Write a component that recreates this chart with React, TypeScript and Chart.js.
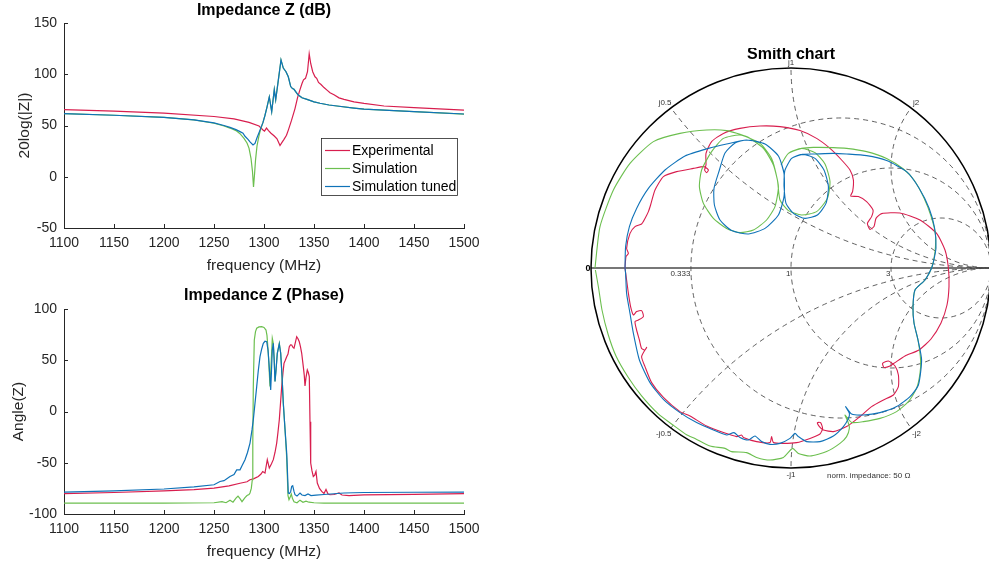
import React, { useEffect, useRef } from 'react';
import { Chart, registerables } from 'chart.js';

Chart.register(...registerables);

const FONT = '"Liberation Sans", Arial, Helvetica, sans-serif';
const AX = '#262626';
const RED = '#D81E4E';
const GREEN = '#6CBF4F';
const BLUE = '#0F72B8';

const seriesNames = ['Experimental', 'Simulation', 'Simulation tuned'];
const freqTicks = [1100, 1150, 1200, 1250, 1300, 1350, 1400, 1450, 1500];
const dbTicks = [-50, 0, 50, 100, 150];
const phaseTicks = [-100, -50, 0, 50, 100];

// ---- Impedance magnitude (dB) ----
const expDbFreq = [1100,1150,1200,1250,1270,1285,1295,1299,1300.5,1302.5,1304.5,1307,1310,1313,1316,1318,1320,1322.5,1324.5,1327.5,1331,1333.5,1336,1338,1339.5,1341.5,1343.5,1345.2,1346.7,1348.7,1351,1352.7,1354.5,1357,1360,1363,1366,1370,1375,1380,1390,1400,1420,1450,1500];
const expDb = [65.5,64,62,58.8,56.5,53,49.5,45.6,44.5,47.5,45,42.5,40,37,30.5,33.5,36.5,40.5,46,55,66.5,77,85,91,94.5,96,102.5,120,110.5,102.5,97.5,96,92,90,87,84.5,82,80,77,75.5,73,71.5,69,67.5,65];

const simDbFreq = [1100,1150,1200,1230,1250,1260,1266,1272,1276,1280,1283,1285,1287,1288.5,1289.5,1290.5,1291.5,1293,1295,1296.5,1299,1301,1303,1305.3,1307.7,1310.3,1311.7,1314.3,1317,1319.3,1322,1324.3,1326.7,1328.5,1330,1334,1338,1343,1350,1356,1365,1373,1390,1400,1450,1500];
const simDb = [61.5,60,58,55.5,52.2,49.5,47.5,45,42,37.5,33,28,18,5,-10,2,16,30,40,46,53,60,68,78,63.5,85,75,94,114,106,102.5,97.5,88,86,85.3,80,77,75.5,73,71.7,70,69,67,66,63.5,61];

const tunDbFreq = [1100,1150,1200,1230,1250,1260,1266,1272,1276,1279,1281,1284,1286,1289,1291,1293,1296,1299,1301,1303,1305.3,1307.7,1310.3,1311.7,1314.3,1317,1319.3,1322,1324.3,1326.7,1328.5,1330,1334,1338,1343,1350,1356,1365,1373,1390,1400,1450,1500];
const tunDb = [61.5,60,58,55.5,52.5,50,48.2,46,44,42.5,39.5,36.5,34,31,32.5,38,45.5,53,60,68,78,63.5,85,75,94,114,106,102.5,97.5,88,86,85.3,80,77,75.5,73,71.7,70,69,67,66,63.5,61.2];

// ---- Impedance phase (deg) ----
const expPhFreq = [1100,1150,1200,1230,1250,1265,1276,1283,1286,1290,1294.3,1297,1298.7,1301,1303.3,1305.3,1307.5,1309.3,1311,1312.7,1314,1315.3,1316.5,1317.7,1319,1320,1321.3,1322.7,1324,1325.3,1326.5,1327.7,1329,1330,1331.5,1332.7,1334,1335.3,1336.5,1337.7,1339.3,1340.3,1341,1342,1343.3,1344.3,1345.3,1346,1346.7,1348,1349.3,1350.7,1352,1353.3,1355.5,1357.7,1360,1362,1364,1366,1370,1375,1378,1385,1400,1450,1500];
const expPh = [-80.2,-79,-77.5,-76.2,-74.7,-72.5,-70,-68.5,-66.6,-65.5,-63.4,-61,-58.5,-60,-47,-55.2,-51,-47,-40,-30.8,-20,-8,8,24.3,38,47,50,53.5,56,63.3,65,64.9,62.5,61.7,68,73,71,68,63,56.8,43.8,35,25,33,40.5,38,34,-10,-50.3,-58,-63.4,-62,-58.5,-69.8,-75,-78,-80,-76,-80.5,-81.2,-81,-79.5,-81.5,-82,-81.3,-80.8,-80.2];

const simPhFreq = [1100,1200,1250,1258,1262,1266,1269,1272,1274,1276,1278,1281,1283,1285,1286,1287.3,1288.3,1288.8,1289.3,1290.3,1291.5,1292.7,1295,1297.7,1300,1302,1303,1304.3,1306,1307.3,1308.3,1309.3,1310.2,1311,1312,1313.3,1315.3,1316.7,1318,1319.3,1321,1322.7,1324,1325,1326,1327.3,1328.5,1330,1333,1336,1339,1342,1345,1350,1360,1400,1500];
const simPh = [-89.3,-89.3,-89,-88,-89,-86.5,-88.5,-84.5,-82.5,-85,-88,-84,-82,-81,-79.5,-75,-66.6,-30,24.3,69.8,78,81.2,82.5,82.8,82,79.5,74,56.8,24.3,50,71.4,66.6,50,29.2,40,56.8,66.5,56.8,35,8.1,-17,-45,-82,-86,-84,-80.5,-85,-88,-89,-86.5,-88.5,-87.5,-88.5,-89,-89.3,-89.3,-89.3];

const tunPhFreq = [1100,1150,1200,1230,1250,1256,1260,1266,1270,1272.7,1276,1278,1281,1283.5,1286,1288,1289.3,1291,1292.7,1294.3,1296,1297.7,1299.3,1301,1302.7,1304,1305,1306.7,1307.5,1308.3,1309.3,1310.2,1311,1312,1313.3,1315.3,1316.7,1318,1319.3,1321,1322.7,1324.3,1325.5,1326.7,1327.7,1328.7,1330,1331,1333,1336,1338,1341,1344,1347,1352,1360,1380,1400,1450,1500];
const tunPh = [-78.6,-77.5,-75.6,-73.5,-71.5,-68.3,-67.5,-63.4,-61.5,-57,-56.9,-53,-47.1,-40,-30.8,-18,-8.2,8,24.3,40,53.5,61,66.6,68.5,68.1,60,47,21.1,40,60,66.6,50,29.2,40,56.8,65.9,56.8,35,8.1,-17,-40.6,-79.5,-80,-78,-73,-72.4,-78,-81.2,-82.5,-79.5,-81.5,-82,-80.5,-82,-81.5,-81,-79.5,-79,-78.8,-78.6];

// ---- Smith chart: reflection coefficient (real, imag) ----
const expSmithRe = [-0.83,-0.825,-0.813,-0.822,-0.805,-0.78,-0.747,-0.73,-0.713,-0.702,-0.68,-0.638,-0.572,-0.488,-0.435,-0.413,-0.422,-0.432,-0.425,-0.425,-0.397,-0.338,-0.255,-0.155,-0.055,0.045,0.128,0.195,0.253,0.295,0.312,0.308,0.298,0.337,0.378,0.41,0.403,0.382,0.395,0.415,0.425,0.453,0.545,0.645,0.728,0.77,0.787,0.79,0.78,0.75,0.7,0.64,0.57,0.52,0.495,0.465,0.458,0.487,0.52,0.537,0.537,0.512,0.462,0.403,0.345,0.278,0.212,0.162,0.142,0.132,0.148,0.158,0.145,0.095,0.028,-0.038,-0.088,-0.097,-0.105,-0.172,-0.238,-0.247,-0.272,-0.338,-0.422,-0.505,-0.555,-0.638,-0.697,-0.73,-0.747,-0.722,-0.73,-0.747,-0.758,-0.772,-0.78,-0.763,-0.738,-0.747,-0.772,-0.788,-0.802,-0.813,-0.822,-0.83];
const expSmithIm = [0,0.057,0.073,0.098,0.173,0.207,0.22,0.248,0.282,0.315,0.39,0.457,0.482,0.498,0.507,0.49,0.477,0.49,0.515,0.573,0.632,0.673,0.698,0.71,0.707,0.687,0.648,0.598,0.54,0.49,0.44,0.382,0.36,0.357,0.332,0.29,0.257,0.223,0.193,0.207,0.248,0.272,0.275,0.24,0.173,0.09,0,-0.093,-0.185,-0.275,-0.355,-0.41,-0.44,-0.473,-0.49,-0.497,-0.477,-0.465,-0.49,-0.535,-0.593,-0.635,-0.66,-0.693,-0.743,-0.793,-0.818,-0.81,-0.793,-0.773,-0.773,-0.802,-0.83,-0.852,-0.873,-0.877,-0.873,-0.843,-0.873,-0.868,-0.847,-0.835,-0.843,-0.823,-0.79,-0.74,-0.718,-0.647,-0.573,-0.493,-0.443,-0.397,-0.41,-0.402,-0.36,-0.31,-0.268,-0.26,-0.243,-0.213,-0.218,-0.235,-0.193,-0.127,-0.06,0];

const simSmithRe = [-0.98,-0.955,-0.888,-0.805,-0.688,-0.555,-0.422,-0.322,-0.222,-0.138,-0.088,-0.063,-0.08,-0.122,-0.188,-0.255,-0.322,-0.388,-0.438,-0.458,-0.447,-0.397,-0.338,-0.255,-0.155,-0.097,-0.068,-0.055,-0.013,0.053,0.128,0.182,0.195,0.17,0.12,0.053,-0.013,-0.05,-0.013,0.053,0.112,0.212,0.278,0.378,0.478,0.562,0.615,0.665,0.7,0.722,0.72,0.703,0.67,0.62,0.61,0.615,0.635,0.648,0.645,0.628,0.587,0.528,0.445,0.362,0.303,0.27,0.285,0.292,0.278,0.245,0.178,0.095,0.037,0.008,-0.038,-0.105,-0.172,-0.222,-0.297,-0.33,-0.405,-0.48,-0.52,-0.59,-0.665,-0.748,-0.815,-0.875,-0.915,-0.945,-0.962,-0.978];
const simSmithIm = [0,0.207,0.39,0.523,0.632,0.673,0.69,0.687,0.657,0.598,0.515,0.407,0.307,0.24,0.19,0.177,0.198,0.248,0.323,0.407,0.49,0.582,0.648,0.665,0.623,0.548,0.44,0.34,0.287,0.265,0.282,0.348,0.432,0.52,0.577,0.598,0.573,0.515,0.573,0.598,0.603,0.602,0.598,0.582,0.548,0.495,0.44,0.35,0.26,0.17,0.08,0,-0.06,-0.11,-0.195,-0.275,-0.36,-0.46,-0.527,-0.602,-0.668,-0.718,-0.752,-0.768,-0.772,-0.735,-0.77,-0.8,-0.843,-0.877,-0.918,-0.94,-0.927,-0.902,-0.947,-0.96,-0.947,-0.923,-0.918,-0.902,-0.89,-0.852,-0.835,-0.785,-0.728,-0.638,-0.545,-0.44,-0.33,-0.21,-0.1,-0.01];

const tunSmithRe = [-0.83,-0.827,-0.808,-0.772,-0.713,-0.63,-0.53,-0.413,-0.322,-0.222,-0.13,-0.063,-0.035,-0.035,-0.063,-0.13,-0.213,-0.297,-0.355,-0.383,-0.385,-0.358,-0.33,-0.28,-0.222,-0.13,-0.063,-0.035,-0.035,-0.025,0.012,0.07,0.132,0.175,0.187,0.165,0.12,0.058,0.003,-0.03,-0.035,-0.03,0.003,0.058,0.12,0.212,0.278,0.378,0.478,0.578,0.64,0.69,0.718,0.725,0.712,0.703,0.67,0.62,0.61,0.615,0.635,0.653,0.637,0.595,0.528,0.445,0.362,0.303,0.273,0.292,0.287,0.262,0.212,0.145,0.078,0.037,0.02,-0.005,-0.055,-0.105,-0.147,-0.18,-0.213,-0.255,-0.285,-0.322,-0.388,-0.472,-0.555,-0.638,-0.705,-0.758,-0.788,-0.805,-0.822,-0.827,-0.83];
const tunSmithIm = [0,0.107,0.207,0.298,0.398,0.49,0.56,0.598,0.62,0.64,0.62,0.56,0.473,0.357,0.265,0.198,0.17,0.187,0.24,0.315,0.398,0.49,0.575,0.625,0.64,0.62,0.56,0.473,0.41,0.323,0.273,0.248,0.265,0.323,0.407,0.49,0.548,0.568,0.548,0.49,0.44,0.49,0.548,0.568,0.57,0.573,0.57,0.562,0.537,0.482,0.4,0.3,0.2,0.1,0.03,0,-0.06,-0.11,-0.195,-0.275,-0.36,-0.46,-0.585,-0.643,-0.693,-0.723,-0.735,-0.73,-0.693,-0.727,-0.752,-0.793,-0.84,-0.868,-0.868,-0.843,-0.827,-0.852,-0.877,-0.882,-0.868,-0.84,-0.86,-0.847,-0.823,-0.835,-0.81,-0.773,-0.723,-0.657,-0.573,-0.46,-0.327,-0.227,-0.127,-0.027,0];

// Smith grid values
const smithResistance = [0.333, 1, 3];
const smithReactance = [0.5, 1, 2];

const pts = (xs: number[], ys: number[]) => xs.map((x, i) => ({ x, y: ys[i] }));

function freqChart(canvas: HTMLCanvasElement, cfg: any) {
  const deco = {
    id: 'freqDeco',
    afterDraw(chart: any) {
      const { ctx, chartArea: a, scales } = chart;
      const x = scales.x, y = scales.y;
      ctx.save();
      ctx.strokeStyle = AX;
      ctx.lineWidth = 1;
      ctx.beginPath();
      x.ticks.forEach((t: any) => {
        const p = Math.round(x.getPixelForValue(t.value)) + 0.5;
        ctx.moveTo(p, a.bottom);
        ctx.lineTo(p, a.bottom - 4);
      });
      y.ticks.forEach((t: any) => {
        const p = Math.round(y.getPixelForValue(t.value)) + 0.5;
        ctx.moveTo(a.left, p);
        ctx.lineTo(a.left + 4, p);
      });
      ctx.stroke();
      ctx.textAlign = 'center';
      ctx.textBaseline = 'middle';
      ctx.fillStyle = '#000';
      ctx.font = `bold 16px ${FONT}`;
      ctx.fillText(cfg.title, (a.left + a.right) / 2, a.top - cfg.titleOff);
      ctx.fillStyle = AX;
      ctx.font = `15.5px ${FONT}`;
      ctx.fillText('frequency (MHz)', (a.left + a.right) / 2, a.bottom + 38);
      ctx.save();
      ctx.translate(cfg.yTitleX, (a.top + a.bottom) / 2);
      ctx.rotate(-Math.PI / 2);
      ctx.fillText(cfg.yTitle, 0, 0);
      ctx.restore();
      if (cfg.legend) {
        const bx = 321.5, by = 138.5, bw = 136, bh = 57;
        ctx.fillStyle = '#fff';
        ctx.fillRect(bx, by, bw, bh);
        ctx.strokeStyle = AX;
        ctx.lineWidth = 0.8;
        ctx.strokeRect(bx, by, bw, bh);
        const cols = [RED, GREEN, BLUE];
        ctx.font = `14px ${FONT}`;
        ctx.textAlign = 'left';
        seriesNames.forEach((n, i) => {
          const yy = 150.5 + i * 18;
          ctx.strokeStyle = cols[i];
          ctx.lineWidth = 1.2;
          ctx.beginPath();
          ctx.moveTo(325, yy);
          ctx.lineTo(350, yy);
          ctx.stroke();
          ctx.fillStyle = '#000';
          ctx.fillText(n, 352, yy + 0.5);
        });
      }
      ctx.restore();
    },
  };
  const ds = (label: string, data: any, color: string) => ({
    label, data, borderColor: color, backgroundColor: color, borderWidth: 1.2,
    pointRadius: 0, tension: 0, fill: false,
  });
  return new Chart(canvas, {
    type: 'line',
    data: {
      datasets: [
        ds(seriesNames[2], cfg.tun, BLUE),
        ds(seriesNames[1], cfg.sim, GREEN),
        ds(seriesNames[0], cfg.exp, RED),
      ],
    },
    options: {
      responsive: false,
      animation: false,
      events: [],
      layout: { padding: { top: cfg.padTop, right: 25, left: 0, bottom: 0 } },
      plugins: { legend: { display: false }, tooltip: { enabled: false }, title: { display: false } },
      scales: {
        x: {
          type: 'linear', min: 1100, max: 1500,
          afterBuildTicks: (s: any) => { s.ticks = freqTicks.map((v) => ({ value: v })); },
          afterFit: (s: any) => { s.height = cfg.xAxisH; },
          grid: { display: false, drawTicks: false },
          border: { display: true, color: AX, width: 1 },
          ticks: { color: AX, font: { size: 14, family: FONT }, padding: 7, maxRotation: 0, autoSkip: false, callback: (v: number) => String(v) },
        },
        y: {
          type: 'linear', min: cfg.yTicks[0], max: cfg.yTicks[cfg.yTicks.length - 1],
          afterBuildTicks: (s: any) => { s.ticks = cfg.yTicks.map((v: number) => ({ value: v })); },
          afterFit: (s: any) => { s.width = 64; },
          grid: { display: false, drawTicks: false },
          border: { display: true, color: AX, width: 1 },
          ticks: { color: AX, font: { size: 14, family: FONT }, padding: 7, autoSkip: false, callback: (v: number) => String(v) },
        },
      },
    },
    plugins: [deco],
  } as any);
}

function smithChart(canvas: HTMLCanvasElement) {
  const grid = {
    id: 'smithGrid',
    beforeDatasetsDraw(chart: any) {
      const { ctx, scales: { x, y } } = chart;
      const cx = x.getPixelForValue(0), cy = y.getPixelForValue(0);
      const R = x.getPixelForValue(1) - cx;
      ctx.save();
      ctx.beginPath();
      ctx.arc(cx, cy, R, 0, Math.PI * 2);
      ctx.clip();
      ctx.setLineDash([5, 4]);
      ctx.strokeStyle = '#3a3a3a';
      ctx.lineWidth = 0.8;
      smithResistance.forEach((r) => {
        const c = r / (1 + r), rad = 1 / (1 + r);
        ctx.beginPath();
        ctx.arc(cx + c * R, cy, rad * R, 0, Math.PI * 2);
        ctx.stroke();
      });
      smithReactance.forEach((xv) => {
        [1, -1].forEach((sgn) => {
          ctx.beginPath();
          ctx.arc(cx + R, cy - sgn * R / xv, R / xv, 0, Math.PI * 2);
          ctx.stroke();
        });
      });
      ctx.restore();
      ctx.save();
      ctx.strokeStyle = '#4a4a4a';
      ctx.lineWidth = 1.6;
      ctx.beginPath();
      ctx.moveTo(cx - R, cy);
      ctx.lineTo(cx + R, cy);
      ctx.stroke();
      ctx.strokeStyle = '#000';
      ctx.lineWidth = 1.5;
      ctx.beginPath();
      ctx.arc(cx, cy, R, 0, Math.PI * 2);
      ctx.stroke();
      ctx.restore();
    },
    afterDraw(chart: any) {
      const { ctx, scales: { x, y } } = chart;
      const cx = x.getPixelForValue(0), cy = y.getPixelForValue(0);
      const R = x.getPixelForValue(1) - cx;
      ctx.save();
      ctx.fillStyle = '#333';
      ctx.font = `8px ${FONT}`;
      ctx.textBaseline = 'middle';
      ctx.textAlign = 'right';
      smithResistance.forEach((r) => {
        const g = (r - 1) / (r + 1);
        ctx.fillText(String(r), cx + g * R - 0.5, cy + 6);
      });
      smithReactance.forEach((xv) => {
        const gx = (xv * xv - 1) / (xv * xv + 1), gy = (2 * xv) / (xv * xv + 1);
        const px = cx + gx * R, pyU = cy - gy * R, pyL = cy + gy * R;
        const lab = String(xv);
        if (xv < 1) {
          ctx.textAlign = 'right';
          ctx.fillText('j' + lab, px + 0.5, pyU - 5);
          ctx.fillText('-j' + lab, px + 0.5, pyL + 6);
        } else if (xv > 1) {
          ctx.textAlign = 'left';
          ctx.fillText('j' + lab, px + 2, pyU - 5);
          ctx.fillText('-j' + lab, px + 1, pyL + 6);
        } else {
          ctx.textAlign = 'center';
          ctx.fillText('j' + lab, px, pyU - 5);
          ctx.fillText('-j' + lab, px, pyL + 7);
        }
      });
      ctx.textAlign = 'left';
      ctx.fillText('norm. impedance: 50 \u03A9', cx + 36, cy + R + 8);
      ctx.fillStyle = '#000';
      ctx.font = `bold 9px ${FONT}`;
      ctx.textAlign = 'right';
      ctx.fillText('0', cx - R - 0.5, cy + 0.5);
      ctx.font = `bold 16px ${FONT}`;
      ctx.textAlign = 'center';
      ctx.fillText('Smith chart', cx, cy - R - 13);
      ctx.restore();
    },
  };
  const ds = (label: string, re: number[], im: number[], color: string) => ({
    label, data: pts(re, im), borderColor: color, backgroundColor: color, borderWidth: 1.1,
    pointRadius: 0, showLine: true, tension: 0.2, fill: false, clip: false,
  });
  return new Chart(canvas, {
    type: 'scatter',
    data: {
      datasets: [
        ds(seriesNames[2], tunSmithRe, tunSmithIm, BLUE),
        ds(seriesNames[1], simSmithRe, simSmithIm, GREEN),
        ds(seriesNames[0], expSmithRe, expSmithIm, RED),
      ],
    },
    options: {
      responsive: false,
      animation: false,
      events: [],
      layout: { padding: 20 },
      plugins: { legend: { display: false }, tooltip: { enabled: false } },
      scales: {
        x: { type: 'linear', min: -1, max: 1, display: false },
        y: { type: 'linear', min: -1, max: 1, display: false },
      },
    },
    plugins: [grid],
  } as any);
}

export default function App() {
  const c1 = useRef<HTMLCanvasElement>(null);
  const c2 = useRef<HTMLCanvasElement>(null);
  const c3 = useRef<HTMLCanvasElement>(null);
  useEffect(() => {
    const charts = [
      freqChart(c1.current!, {
        title: 'Impedance Z (dB)', titleOff: 12, yTitle: '20log(|Z|)', yTitleX: 25, padTop: 23, xAxisH: 54,
        yTicks: dbTicks, legend: true,
        exp: pts(expDbFreq, expDb), sim: pts(simDbFreq, simDb), tun: pts(tunDbFreq, tunDb),
      }),
      freqChart(c2.current!, {
        title: 'Impedance Z (Phase)', titleOff: 13, yTitle: 'Angle(Z)', yTitleX: 19, padTop: 27, xAxisH: 50,
        yTicks: phaseTicks, legend: false,
        exp: pts(expPhFreq, expPh), sim: pts(simPhFreq, simPh), tun: pts(tunPhFreq, tunPh),
      }),
      smithChart(c3.current!),
    ];
    return () => charts.forEach((c) => c.destroy());
  }, []);
  return (
    <div style={{ position: 'fixed', left: 0, top: 0, width: 989, height: 564, overflow: 'hidden', background: '#fff' }}>
      <canvas ref={c1} width={489} height={282} style={{ position: 'absolute', left: 0, top: 0, width: 489, height: 282 }} />
      <canvas ref={c2} width={489} height={282} style={{ position: 'absolute', left: 0, top: 282, width: 489, height: 282 }} />
      <canvas ref={c3} width={440} height={440} style={{ position: 'absolute', left: 571, top: 48, width: 440, height: 440 }} />
    </div>
  );
}
